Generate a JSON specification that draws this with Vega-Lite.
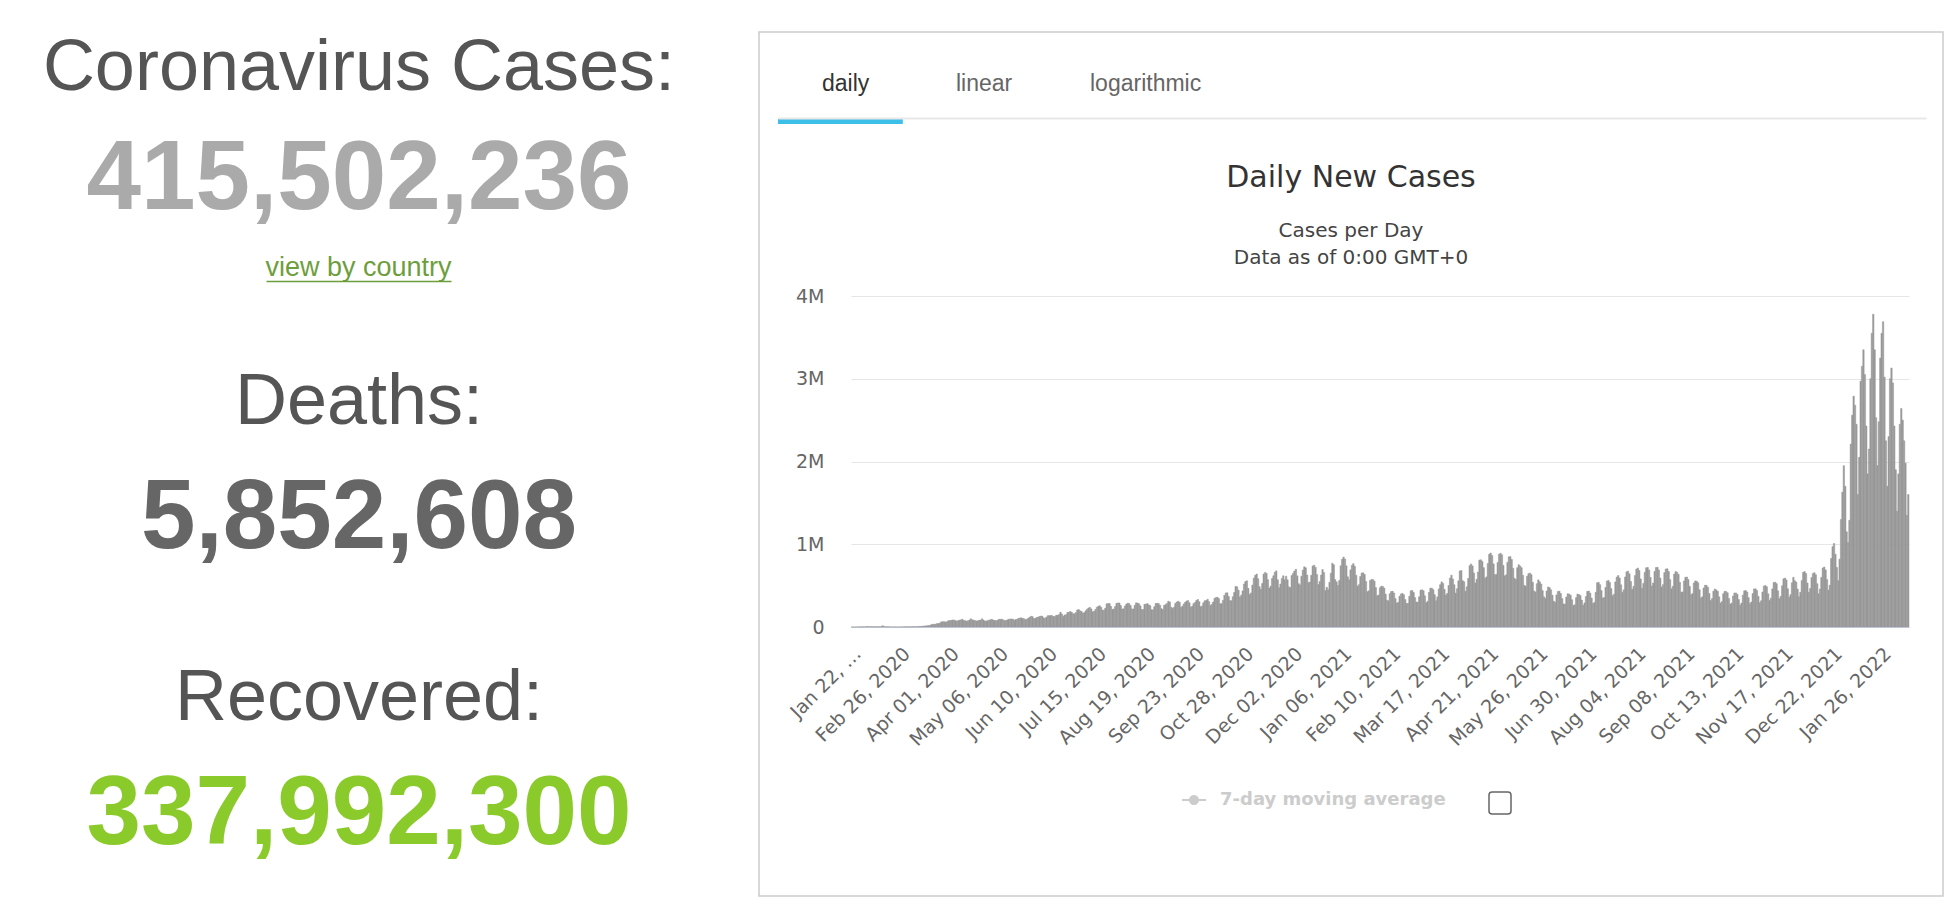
{
"$schema":"https://vega.github.io/schema/vega-lite/v6.json",
"background":"white",
"padding":{"left":0,"top":31,"right":1,"bottom":28},
"config":{"view":{"stroke":null},"font":"DejaVu Sans"},
"datasets":{
"stats":[{"label":"Coronavirus Cases:","count":415502236},{"label":"Deaths:","count":5852608},{"label":"Recovered:","count":337992300}],
"tabs":[{"tab":"daily","active":true},{"tab":"linear","active":false},{"tab":"logarithmic","active":false}],
"series":[{"series":"7-day moving average"}],
"toggle":[{"toggle":"show 7-day moving average"}],
"daily":[
{"date":"2020-01-22","cases":555},{"date":"2020-01-23","cases":98},{"date":"2020-01-24","cases":288},{"date":"2020-01-25","cases":493},{"date":"2020-01-26","cases":684},{"date":"2020-01-27","cases":809},{"date":"2020-01-28","cases":2651},{"date":"2020-01-29","cases":588},{"date":"2020-01-30","cases":2068},{"date":"2020-01-31","cases":1693},
{"date":"2020-02-01","cases":2111},{"date":"2020-02-02","cases":4749},{"date":"2020-02-03","cases":3094},{"date":"2020-02-04","cases":4011},{"date":"2020-02-05","cases":3743},{"date":"2020-02-06","cases":3159},{"date":"2020-02-07","cases":3437},{"date":"2020-02-08","cases":2657},{"date":"2020-02-09","cases":2984},{"date":"2020-02-10","cases":2473},{"date":"2020-02-11","cases":2022},{"date":"2020-02-12","cases":1820},{"date":"2020-02-13","cases":15153},{"date":"2020-02-14","cases":5090},{"date":"2020-02-15","cases":2641},{"date":"2020-02-16","cases":2058},{"date":"2020-02-17","cases":2100},{"date":"2020-02-18","cases":1866},{"date":"2020-02-19","cases":538},{"date":"2020-02-20","cases":630},{"date":"2020-02-21","cases":1013},{"date":"2020-02-22","cases":1109},{"date":"2020-02-23","cases":574},{"date":"2020-02-24","cases":688},{"date":"2020-02-25","cases":973},{"date":"2020-02-26","cases":1153},{"date":"2020-02-27","cases":1353},{"date":"2020-02-28","cases":1874},{"date":"2020-02-29","cases":1868},
{"date":"2020-03-01","cases":2153},{"date":"2020-03-02","cases":1868},{"date":"2020-03-03","cases":2380},{"date":"2020-03-04","cases":2234},{"date":"2020-03-05","cases":2735},{"date":"2020-03-06","cases":3934},{"date":"2020-03-07","cases":4083},{"date":"2020-03-08","cases":3831},{"date":"2020-03-09","cases":3930},{"date":"2020-03-10","cases":4690},{"date":"2020-03-11","cases":7088},{"date":"2020-03-12","cases":7431},{"date":"2020-03-13","cases":10787},{"date":"2020-03-14","cases":11027},{"date":"2020-03-15","cases":13765},{"date":"2020-03-16","cases":14632},{"date":"2020-03-17","cases":16897},{"date":"2020-03-18","cases":20160},{"date":"2020-03-19","cases":28780},{"date":"2020-03-20","cases":32570},{"date":"2020-03-21","cases":32733},{"date":"2020-03-22","cases":33939},{"date":"2020-03-23","cases":41157},{"date":"2020-03-24","cases":41961},{"date":"2020-03-25","cases":49569},{"date":"2020-03-26","cases":61788},{"date":"2020-03-27","cases":64290},{"date":"2020-03-28","cases":64620},{"date":"2020-03-29","cases":59600},{"date":"2020-03-30","cases":64560},{"date":"2020-03-31","cases":75390},
{"date":"2020-04-01","cases":77280},{"date":"2020-04-02","cases":80270},{"date":"2020-04-03","cases":84150},{"date":"2020-04-04","cases":85470},{"date":"2020-04-05","cases":77330},{"date":"2020-04-06","cases":71410},{"date":"2020-04-07","cases":77130},{"date":"2020-04-08","cases":82510},{"date":"2020-04-09","cases":86470},{"date":"2020-04-10","cases":93100},{"date":"2020-04-11","cases":79350},{"date":"2020-04-12","cases":76480},{"date":"2020-04-13","cases":71200},{"date":"2020-04-14","cases":74950},{"date":"2020-04-15","cases":83020},{"date":"2020-04-16","cases":98840},{"date":"2020-04-17","cases":86800},{"date":"2020-04-18","cases":82600},{"date":"2020-04-19","cases":79200},{"date":"2020-04-20","cases":72800},{"date":"2020-04-21","cases":76100},{"date":"2020-04-22","cases":80800},{"date":"2020-04-23","cases":84700},{"date":"2020-04-24","cases":98300},{"date":"2020-04-25","cases":84500},{"date":"2020-04-26","cases":72800},{"date":"2020-04-27","cases":73500},{"date":"2020-04-28","cases":76600},{"date":"2020-04-29","cases":81500},{"date":"2020-04-30","cases":87800},
{"date":"2020-05-01","cases":92400},{"date":"2020-05-02","cases":84500},{"date":"2020-05-03","cases":78900},{"date":"2020-05-04","cases":77400},{"date":"2020-05-05","cases":80000},{"date":"2020-05-06","cases":93500},{"date":"2020-05-07","cases":92000},{"date":"2020-05-08","cases":95000},{"date":"2020-05-09","cases":87400},{"date":"2020-05-10","cases":76900},{"date":"2020-05-11","cases":79700},{"date":"2020-05-12","cases":85800},{"date":"2020-05-13","cases":92300},{"date":"2020-05-14","cases":97300},{"date":"2020-05-15","cases":96300},{"date":"2020-05-16","cases":95400},{"date":"2020-05-17","cases":81000},{"date":"2020-05-18","cases":90000},{"date":"2020-05-19","cases":93100},{"date":"2020-05-20","cases":103700},{"date":"2020-05-21","cases":107700},{"date":"2020-05-22","cases":111000},{"date":"2020-05-23","cases":103400},{"date":"2020-05-24","cases":100000},{"date":"2020-05-25","cases":89500},{"date":"2020-05-26","cases":94500},{"date":"2020-05-27","cases":106000},{"date":"2020-05-28","cases":117000},{"date":"2020-05-29","cases":129000},{"date":"2020-05-30","cases":125000},{"date":"2020-05-31","cases":104000},
{"date":"2020-06-01","cases":103000},{"date":"2020-06-02","cases":115000},{"date":"2020-06-03","cases":120000},{"date":"2020-06-04","cases":126000},{"date":"2020-06-05","cases":132000},{"date":"2020-06-06","cases":130000},{"date":"2020-06-07","cases":110000},{"date":"2020-06-08","cases":104000},{"date":"2020-06-09","cases":120000},{"date":"2020-06-10","cases":137000},{"date":"2020-06-11","cases":137000},{"date":"2020-06-12","cases":140000},{"date":"2020-06-13","cases":137000},{"date":"2020-06-14","cases":128000},{"date":"2020-06-15","cases":126000},{"date":"2020-06-16","cases":142000},{"date":"2020-06-17","cases":142000},{"date":"2020-06-18","cases":150000},{"date":"2020-06-19","cases":179000},{"date":"2020-06-20","cases":157000},{"date":"2020-06-21","cases":130000},{"date":"2020-06-22","cases":145000},{"date":"2020-06-23","cases":149000},{"date":"2020-06-24","cases":175000},{"date":"2020-06-25","cases":178000},{"date":"2020-06-26","cases":188000},{"date":"2020-06-27","cases":177000},{"date":"2020-06-28","cases":160000},{"date":"2020-06-29","cases":160000},{"date":"2020-06-30","cases":174000},
{"date":"2020-07-01","cases":206000},{"date":"2020-07-02","cases":210000},{"date":"2020-07-03","cases":195000},{"date":"2020-07-04","cases":188000},{"date":"2020-07-05","cases":168000},{"date":"2020-07-06","cases":174000},{"date":"2020-07-07","cases":197000},{"date":"2020-07-08","cases":215000},{"date":"2020-07-09","cases":230000},{"date":"2020-07-10","cases":237000},{"date":"2020-07-11","cases":218000},{"date":"2020-07-12","cases":183000},{"date":"2020-07-13","cases":190000},{"date":"2020-07-14","cases":212000},{"date":"2020-07-15","cases":238000},{"date":"2020-07-16","cases":251000},{"date":"2020-07-17","cases":256000},{"date":"2020-07-18","cases":240000},{"date":"2020-07-19","cases":206000},{"date":"2020-07-20","cases":203000},{"date":"2020-07-21","cases":227000},{"date":"2020-07-22","cases":280000},{"date":"2020-07-23","cases":283000},{"date":"2020-07-24","cases":283000},{"date":"2020-07-25","cases":250000},{"date":"2020-07-26","cases":213000},{"date":"2020-07-27","cases":217000},{"date":"2020-07-28","cases":247000},{"date":"2020-07-29","cases":285000},{"date":"2020-07-30","cases":291000},{"date":"2020-07-31","cases":290000},
{"date":"2020-08-01","cases":260000},{"date":"2020-08-02","cases":218000},{"date":"2020-08-03","cases":220000},{"date":"2020-08-04","cases":253000},{"date":"2020-08-05","cases":277000},{"date":"2020-08-06","cases":288000},{"date":"2020-08-07","cases":284000},{"date":"2020-08-08","cases":260000},{"date":"2020-08-09","cases":219000},{"date":"2020-08-10","cases":218000},{"date":"2020-08-11","cases":262000},{"date":"2020-08-12","cases":292000},{"date":"2020-08-13","cases":289000},{"date":"2020-08-14","cases":282000},{"date":"2020-08-15","cases":256000},{"date":"2020-08-16","cases":212000},{"date":"2020-08-17","cases":211000},{"date":"2020-08-18","cases":274000},{"date":"2020-08-19","cases":278000},{"date":"2020-08-20","cases":283000},{"date":"2020-08-21","cases":268000},{"date":"2020-08-22","cases":257000},{"date":"2020-08-23","cases":209000},{"date":"2020-08-24","cases":207000},{"date":"2020-08-25","cases":245000},{"date":"2020-08-26","cases":285000},{"date":"2020-08-27","cases":286000},{"date":"2020-08-28","cases":283000},{"date":"2020-08-29","cases":264000},{"date":"2020-08-30","cases":222000},{"date":"2020-08-31","cases":212000},
{"date":"2020-09-01","cases":262000},{"date":"2020-09-02","cases":271000},{"date":"2020-09-03","cases":285000},{"date":"2020-09-04","cases":311000},{"date":"2020-09-05","cases":303000},{"date":"2020-09-06","cases":238000},{"date":"2020-09-07","cases":226000},{"date":"2020-09-08","cases":239000},{"date":"2020-09-09","cases":285000},{"date":"2020-09-10","cases":303000},{"date":"2020-09-11","cases":312000},{"date":"2020-09-12","cases":299000},{"date":"2020-09-13","cases":237000},{"date":"2020-09-14","cases":251000},{"date":"2020-09-15","cases":279000},{"date":"2020-09-16","cases":298000},{"date":"2020-09-17","cases":314000},{"date":"2020-09-18","cases":319000},{"date":"2020-09-19","cases":292000},{"date":"2020-09-20","cases":240000},{"date":"2020-09-21","cases":251000},{"date":"2020-09-22","cases":283000},{"date":"2020-09-23","cases":297000},{"date":"2020-09-24","cases":321000},{"date":"2020-09-25","cases":333000},{"date":"2020-09-26","cases":305000},{"date":"2020-09-27","cases":245000},{"date":"2020-09-28","cases":255000},{"date":"2020-09-29","cases":293000},{"date":"2020-09-30","cases":318000},
{"date":"2020-10-01","cases":319000},{"date":"2020-10-02","cases":335000},{"date":"2020-10-03","cases":306000},{"date":"2020-10-04","cases":260000},{"date":"2020-10-05","cases":275000},{"date":"2020-10-06","cases":302000},{"date":"2020-10-07","cases":347000},{"date":"2020-10-08","cases":357000},{"date":"2020-10-09","cases":360000},{"date":"2020-10-10","cases":343000},{"date":"2020-10-11","cases":280000},{"date":"2020-10-12","cases":283000},{"date":"2020-10-13","cases":323000},{"date":"2020-10-14","cases":382000},{"date":"2020-10-15","cases":412000},{"date":"2020-10-16","cases":413000},{"date":"2020-10-17","cases":369000},{"date":"2020-10-18","cases":319000},{"date":"2020-10-19","cases":317000},{"date":"2020-10-20","cases":367000},{"date":"2020-10-21","cases":416000},{"date":"2020-10-22","cases":491000},{"date":"2020-10-23","cases":485000},{"date":"2020-10-24","cases":446000},{"date":"2020-10-25","cases":363000},{"date":"2020-10-26","cases":385000},{"date":"2020-10-27","cases":436000},{"date":"2020-10-28","cases":519000},{"date":"2020-10-29","cases":549000},{"date":"2020-10-30","cases":558000},{"date":"2020-10-31","cases":467000},
{"date":"2020-11-01","cases":394000},{"date":"2020-11-02","cases":412000},{"date":"2020-11-03","cases":507000},{"date":"2020-11-04","cases":591000},{"date":"2020-11-05","cases":625000},{"date":"2020-11-06","cases":640000},{"date":"2020-11-07","cases":584000},{"date":"2020-11-08","cases":487000},{"date":"2020-11-09","cases":455000},{"date":"2020-11-10","cases":527000},{"date":"2020-11-11","cases":640000},{"date":"2020-11-12","cases":660000},{"date":"2020-11-13","cases":648000},{"date":"2020-11-14","cases":572000},{"date":"2020-11-15","cases":470000},{"date":"2020-11-16","cases":493000},{"date":"2020-11-17","cases":586000},{"date":"2020-11-18","cases":619000},{"date":"2020-11-19","cases":662000},{"date":"2020-11-20","cases":678000},{"date":"2020-11-21","cases":570000},{"date":"2020-11-22","cases":474000},{"date":"2020-11-23","cases":520000},{"date":"2020-11-24","cases":587000},{"date":"2020-11-25","cases":619000},{"date":"2020-11-26","cases":570000},{"date":"2020-11-27","cases":614000},{"date":"2020-11-28","cases":570000},{"date":"2020-11-29","cases":485000},{"date":"2020-11-30","cases":476000},
{"date":"2020-12-01","cases":622000},{"date":"2020-12-02","cases":649000},{"date":"2020-12-03","cases":677000},{"date":"2020-12-04","cases":697000},{"date":"2020-12-05","cases":618000},{"date":"2020-12-06","cases":523000},{"date":"2020-12-07","cases":509000},{"date":"2020-12-08","cases":613000},{"date":"2020-12-09","cases":688000},{"date":"2020-12-10","cases":727000},{"date":"2020-12-11","cases":716000},{"date":"2020-12-12","cases":628000},{"date":"2020-12-13","cases":536000},{"date":"2020-12-14","cases":544000},{"date":"2020-12-15","cases":625000},{"date":"2020-12-16","cases":738000},{"date":"2020-12-17","cases":747000},{"date":"2020-12-18","cases":722000},{"date":"2020-12-19","cases":633000},{"date":"2020-12-20","cases":513000},{"date":"2020-12-21","cases":550000},{"date":"2020-12-22","cases":627000},{"date":"2020-12-23","cases":694000},{"date":"2020-12-24","cases":658000},{"date":"2020-12-25","cases":440000},{"date":"2020-12-26","cases":480000},{"date":"2020-12-27","cases":450000},{"date":"2020-12-28","cases":540000},{"date":"2020-12-29","cases":650000},{"date":"2020-12-30","cases":770000},{"date":"2020-12-31","cases":753000},
{"date":"2021-01-01","cases":573000},{"date":"2021-01-02","cases":546000},{"date":"2021-01-03","cases":501000},{"date":"2021-01-04","cases":563000},{"date":"2021-01-05","cases":740000},{"date":"2021-01-06","cases":818000},{"date":"2021-01-07","cases":845000},{"date":"2021-01-08","cases":821000},{"date":"2021-01-09","cases":739000},{"date":"2021-01-10","cases":606000},{"date":"2021-01-11","cases":570000},{"date":"2021-01-12","cases":690000},{"date":"2021-01-13","cases":745000},{"date":"2021-01-14","cases":766000},{"date":"2021-01-15","cases":733000},{"date":"2021-01-16","cases":626000},{"date":"2021-01-17","cases":494000},{"date":"2021-01-18","cases":512000},{"date":"2021-01-19","cases":610000},{"date":"2021-01-20","cases":653000},{"date":"2021-01-21","cases":655000},{"date":"2021-01-22","cases":636000},{"date":"2021-01-23","cases":550000},{"date":"2021-01-24","cases":426000},{"date":"2021-01-25","cases":437000},{"date":"2021-01-26","cases":563000},{"date":"2021-01-27","cases":574000},{"date":"2021-01-28","cases":573000},{"date":"2021-01-29","cases":555000},{"date":"2021-01-30","cases":476000},{"date":"2021-01-31","cases":378000},
{"date":"2021-02-01","cases":386000},{"date":"2021-02-02","cases":474000},{"date":"2021-02-03","cases":494000},{"date":"2021-02-04","cases":488000},{"date":"2021-02-05","cases":470000},{"date":"2021-02-06","cases":397000},{"date":"2021-02-07","cases":324000},{"date":"2021-02-08","cases":316000},{"date":"2021-02-09","cases":403000},{"date":"2021-02-10","cases":429000},{"date":"2021-02-11","cases":432000},{"date":"2021-02-12","cases":411000},{"date":"2021-02-13","cases":343000},{"date":"2021-02-14","cases":290000},{"date":"2021-02-15","cases":298000},{"date":"2021-02-16","cases":372000},{"date":"2021-02-17","cases":400000},{"date":"2021-02-18","cases":406000},{"date":"2021-02-19","cases":390000},{"date":"2021-02-20","cases":331000},{"date":"2021-02-21","cases":284000},{"date":"2021-02-22","cases":286000},{"date":"2021-02-23","cases":371000},{"date":"2021-02-24","cases":437000},{"date":"2021-02-25","cases":441000},{"date":"2021-02-26","cases":417000},{"date":"2021-02-27","cases":355000},{"date":"2021-02-28","cases":302000},
{"date":"2021-03-01","cases":302000},{"date":"2021-03-02","cases":366000},{"date":"2021-03-03","cases":445000},{"date":"2021-03-04","cases":449000},{"date":"2021-03-05","cases":438000},{"date":"2021-03-06","cases":377000},{"date":"2021-03-07","cases":294000},{"date":"2021-03-08","cases":310000},{"date":"2021-03-09","cases":419000},{"date":"2021-03-10","cases":469000},{"date":"2021-03-11","cases":469000},{"date":"2021-03-12","cases":451000},{"date":"2021-03-13","cases":390000},{"date":"2021-03-14","cases":317000},{"date":"2021-03-15","cases":364000},{"date":"2021-03-16","cases":460000},{"date":"2021-03-17","cases":512000},{"date":"2021-03-18","cases":545000},{"date":"2021-03-19","cases":527000},{"date":"2021-03-20","cases":455000},{"date":"2021-03-21","cases":386000},{"date":"2021-03-22","cases":405000},{"date":"2021-03-23","cases":502000},{"date":"2021-03-24","cases":592000},{"date":"2021-03-25","cases":626000},{"date":"2021-03-26","cases":581000},{"date":"2021-03-27","cases":511000},{"date":"2021-03-28","cases":409000},{"date":"2021-03-29","cases":463000},{"date":"2021-03-30","cases":558000},{"date":"2021-03-31","cases":677000},
{"date":"2021-04-01","cases":683000},{"date":"2021-04-02","cases":560000},{"date":"2021-04-03","cases":547000},{"date":"2021-04-04","cases":433000},{"date":"2021-04-05","cases":487000},{"date":"2021-04-06","cases":586000},{"date":"2021-04-07","cases":741000},{"date":"2021-04-08","cases":761000},{"date":"2021-04-09","cases":738000},{"date":"2021-04-10","cases":653000},{"date":"2021-04-11","cases":531000},{"date":"2021-04-12","cases":576000},{"date":"2021-04-13","cases":664000},{"date":"2021-04-14","cases":809000},{"date":"2021-04-15","cases":812000},{"date":"2021-04-16","cases":793000},{"date":"2021-04-17","cases":717000},{"date":"2021-04-18","cases":589000},{"date":"2021-04-19","cases":606000},{"date":"2021-04-20","cases":767000},{"date":"2021-04-21","cases":880000},{"date":"2021-04-22","cases":893000},{"date":"2021-04-23","cases":865000},{"date":"2021-04-24","cases":762000},{"date":"2021-04-25","cases":632000},{"date":"2021-04-26","cases":636000},{"date":"2021-04-27","cases":780000},{"date":"2021-04-28","cases":880000},{"date":"2021-04-29","cases":891000},{"date":"2021-04-30","cases":873000},
{"date":"2021-05-01","cases":745000},{"date":"2021-05-02","cases":618000},{"date":"2021-05-03","cases":630000},{"date":"2021-05-04","cases":782000},{"date":"2021-05-05","cases":848000},{"date":"2021-05-06","cases":850000},{"date":"2021-05-07","cases":817000},{"date":"2021-05-08","cases":710000},{"date":"2021-05-09","cases":589000},{"date":"2021-05-10","cases":574000},{"date":"2021-05-11","cases":716000},{"date":"2021-05-12","cases":753000},{"date":"2021-05-13","cases":737000},{"date":"2021-05-14","cases":716000},{"date":"2021-05-15","cases":624000},{"date":"2021-05-16","cases":503000},{"date":"2021-05-17","cases":494000},{"date":"2021-05-18","cases":614000},{"date":"2021-05-19","cases":644000},{"date":"2021-05-20","cases":652000},{"date":"2021-05-21","cases":633000},{"date":"2021-05-22","cases":540000},{"date":"2021-05-23","cases":435000},{"date":"2021-05-24","cases":422000},{"date":"2021-05-25","cases":524000},{"date":"2021-05-26","cases":570000},{"date":"2021-05-27","cases":546000},{"date":"2021-05-28","cases":520000},{"date":"2021-05-29","cases":440000},{"date":"2021-05-30","cases":365000},{"date":"2021-05-31","cases":345000},
{"date":"2021-06-01","cases":436000},{"date":"2021-06-02","cases":484000},{"date":"2021-06-03","cases":476000},{"date":"2021-06-04","cases":451000},{"date":"2021-06-05","cases":385000},{"date":"2021-06-06","cases":312000},{"date":"2021-06-07","cases":300000},{"date":"2021-06-08","cases":388000},{"date":"2021-06-09","cases":430000},{"date":"2021-06-10","cases":433000},{"date":"2021-06-11","cases":405000},{"date":"2021-06-12","cases":344000},{"date":"2021-06-13","cases":279000},{"date":"2021-06-14","cases":276000},{"date":"2021-06-15","cases":362000},{"date":"2021-06-16","cases":402000},{"date":"2021-06-17","cases":398000},{"date":"2021-06-18","cases":385000},{"date":"2021-06-19","cases":330000},{"date":"2021-06-20","cases":260000},{"date":"2021-06-21","cases":269000},{"date":"2021-06-22","cases":355000},{"date":"2021-06-23","cases":398000},{"date":"2021-06-24","cases":393000},{"date":"2021-06-25","cases":380000},{"date":"2021-06-26","cases":325000},{"date":"2021-06-27","cases":262000},{"date":"2021-06-28","cases":291000},{"date":"2021-06-29","cases":370000},{"date":"2021-06-30","cases":430000},
{"date":"2021-07-01","cases":434000},{"date":"2021-07-02","cases":410000},{"date":"2021-07-03","cases":350000},{"date":"2021-07-04","cases":285000},{"date":"2021-07-05","cases":296000},{"date":"2021-07-06","cases":420000},{"date":"2021-07-07","cases":535000},{"date":"2021-07-08","cases":540000},{"date":"2021-07-09","cases":512000},{"date":"2021-07-10","cases":440000},{"date":"2021-07-11","cases":350000},{"date":"2021-07-12","cases":358000},{"date":"2021-07-13","cases":478000},{"date":"2021-07-14","cases":556000},{"date":"2021-07-15","cases":563000},{"date":"2021-07-16","cases":538000},{"date":"2021-07-17","cases":464000},{"date":"2021-07-18","cases":378000},{"date":"2021-07-19","cases":396000},{"date":"2021-07-20","cases":545000},{"date":"2021-07-21","cases":603000},{"date":"2021-07-22","cases":622000},{"date":"2021-07-23","cases":592000},{"date":"2021-07-24","cases":510000},{"date":"2021-07-25","cases":420000},{"date":"2021-07-26","cases":449000},{"date":"2021-07-27","cases":605000},{"date":"2021-07-28","cases":667000},{"date":"2021-07-29","cases":675000},{"date":"2021-07-30","cases":643000},{"date":"2021-07-31","cases":551000},
{"date":"2021-08-01","cases":455000},{"date":"2021-08-02","cases":492000},{"date":"2021-08-03","cases":621000},{"date":"2021-08-04","cases":700000},{"date":"2021-08-05","cases":713000},{"date":"2021-08-06","cases":683000},{"date":"2021-08-07","cases":581000},{"date":"2021-08-08","cases":469000},{"date":"2021-08-09","cases":527000},{"date":"2021-08-10","cases":662000},{"date":"2021-08-11","cases":716000},{"date":"2021-08-12","cases":720000},{"date":"2021-08-13","cases":690000},{"date":"2021-08-14","cases":600000},{"date":"2021-08-15","cases":495000},{"date":"2021-08-16","cases":531000},{"date":"2021-08-17","cases":672000},{"date":"2021-08-18","cases":718000},{"date":"2021-08-19","cases":722000},{"date":"2021-08-20","cases":689000},{"date":"2021-08-21","cases":592000},{"date":"2021-08-22","cases":483000},{"date":"2021-08-23","cases":512000},{"date":"2021-08-24","cases":658000},{"date":"2021-08-25","cases":700000},{"date":"2021-08-26","cases":704000},{"date":"2021-08-27","cases":672000},{"date":"2021-08-28","cases":573000},{"date":"2021-08-29","cases":461000},{"date":"2021-08-30","cases":493000},{"date":"2021-08-31","cases":640000},
{"date":"2021-09-01","cases":671000},{"date":"2021-09-02","cases":661000},{"date":"2021-09-03","cases":636000},{"date":"2021-09-04","cases":540000},{"date":"2021-09-05","cases":420000},{"date":"2021-09-06","cases":424000},{"date":"2021-09-07","cases":556000},{"date":"2021-09-08","cases":601000},{"date":"2021-09-09","cases":604000},{"date":"2021-09-10","cases":573000},{"date":"2021-09-11","cases":490000},{"date":"2021-09-12","cases":389000},{"date":"2021-09-13","cases":404000},{"date":"2021-09-14","cases":531000},{"date":"2021-09-15","cases":557000},{"date":"2021-09-16","cases":553000},{"date":"2021-09-17","cases":534000},{"date":"2021-09-18","cases":450000},{"date":"2021-09-19","cases":350000},{"date":"2021-09-20","cases":365000},{"date":"2021-09-21","cases":471000},{"date":"2021-09-22","cases":505000},{"date":"2021-09-23","cases":503000},{"date":"2021-09-24","cases":480000},{"date":"2021-09-25","cases":405000},{"date":"2021-09-26","cases":319000},{"date":"2021-09-27","cases":343000},{"date":"2021-09-28","cases":433000},{"date":"2021-09-29","cases":459000},{"date":"2021-09-30","cases":448000},
{"date":"2021-10-01","cases":433000},{"date":"2021-10-02","cases":365000},{"date":"2021-10-03","cases":290000},{"date":"2021-10-04","cases":307000},{"date":"2021-10-05","cases":402000},{"date":"2021-10-06","cases":431000},{"date":"2021-10-07","cases":428000},{"date":"2021-10-08","cases":414000},{"date":"2021-10-09","cases":345000},{"date":"2021-10-10","cases":276000},{"date":"2021-10-11","cases":290000},{"date":"2021-10-12","cases":374000},{"date":"2021-10-13","cases":411000},{"date":"2021-10-14","cases":412000},{"date":"2021-10-15","cases":396000},{"date":"2021-10-16","cases":331000},{"date":"2021-10-17","cases":265000},{"date":"2021-10-18","cases":290000},{"date":"2021-10-19","cases":386000},{"date":"2021-10-20","cases":437000},{"date":"2021-10-21","cases":440000},{"date":"2021-10-22","cases":423000},{"date":"2021-10-23","cases":355000},{"date":"2021-10-24","cases":281000},{"date":"2021-10-25","cases":302000},{"date":"2021-10-26","cases":404000},{"date":"2021-10-27","cases":460000},{"date":"2021-10-28","cases":461000},{"date":"2021-10-29","cases":442000},{"date":"2021-10-30","cases":371000},{"date":"2021-10-31","cases":293000},
{"date":"2021-11-01","cases":317000},{"date":"2021-11-02","cases":423000},{"date":"2021-11-03","cases":495000},{"date":"2021-11-04","cases":501000},{"date":"2021-11-05","cases":486000},{"date":"2021-11-06","cases":401000},{"date":"2021-11-07","cases":321000},{"date":"2021-11-08","cases":348000},{"date":"2021-11-09","cases":460000},{"date":"2021-11-10","cases":537000},{"date":"2021-11-11","cases":542000},{"date":"2021-11-12","cases":524000},{"date":"2021-11-13","cases":437000},{"date":"2021-11-14","cases":343000},{"date":"2021-11-15","cases":371000},{"date":"2021-11-16","cases":497000},{"date":"2021-11-17","cases":582000},{"date":"2021-11-18","cases":591000},{"date":"2021-11-19","cases":569000},{"date":"2021-11-20","cases":462000},{"date":"2021-11-21","cases":361000},{"date":"2021-11-22","cases":391000},{"date":"2021-11-23","cases":536000},{"date":"2021-11-24","cases":600000},{"date":"2021-11-25","cases":560000},{"date":"2021-11-26","cases":543000},{"date":"2021-11-27","cases":458000},{"date":"2021-11-28","cases":365000},{"date":"2021-11-29","cases":420000},{"date":"2021-11-30","cases":562000},
{"date":"2021-12-01","cases":661000},{"date":"2021-12-02","cases":670000},{"date":"2021-12-03","cases":647000},{"date":"2021-12-04","cases":532000},{"date":"2021-12-05","cases":419000},{"date":"2021-12-06","cases":466000},{"date":"2021-12-07","cases":598000},{"date":"2021-12-08","cases":647000},{"date":"2021-12-09","cases":656000},{"date":"2021-12-10","cases":631000},{"date":"2021-12-11","cases":524000},{"date":"2021-12-12","cases":402000},{"date":"2021-12-13","cases":460000},{"date":"2021-12-14","cases":600000},{"date":"2021-12-15","cases":713000},{"date":"2021-12-16","cases":725000},{"date":"2021-12-17","cases":690000},{"date":"2021-12-18","cases":575000},{"date":"2021-12-19","cases":445000},{"date":"2021-12-20","cases":505000},{"date":"2021-12-21","cases":827000},{"date":"2021-12-22","cases":971000},{"date":"2021-12-23","cases":1010000},{"date":"2021-12-24","cases":880000},{"date":"2021-12-25","cases":720000},{"date":"2021-12-26","cases":560000},{"date":"2021-12-27","cases":820000},{"date":"2021-12-28","cases":1300000},{"date":"2021-12-29","cases":1630000},{"date":"2021-12-30","cases":1950000},{"date":"2021-12-31","cases":1700000},
{"date":"2022-01-01","cases":1150000},{"date":"2022-01-02","cases":1020000},{"date":"2022-01-03","cases":1290000},{"date":"2022-01-04","cases":2210000},{"date":"2022-01-05","cases":2560000},{"date":"2022-01-06","cases":2790000},{"date":"2022-01-07","cases":2680000},{"date":"2022-01-08","cases":2450000},{"date":"2022-01-09","cases":1600000},{"date":"2022-01-10","cases":2050000},{"date":"2022-01-11","cases":2970000},{"date":"2022-01-12","cases":3150000},{"date":"2022-01-13","cases":3350000},{"date":"2022-01-14","cases":3050000},{"date":"2022-01-15","cases":2430000},{"date":"2022-01-16","cases":1850000},{"date":"2022-01-17","cases":2150000},{"date":"2022-01-18","cases":3000000},{"date":"2022-01-19","cases":3550000},{"date":"2022-01-20","cases":3780000},{"date":"2022-01-21","cases":3350000},{"date":"2022-01-22","cases":2530000},{"date":"2022-01-23","cases":1950000},{"date":"2022-01-24","cases":2480000},{"date":"2022-01-25","cases":3250000},{"date":"2022-01-26","cases":3550000},{"date":"2022-01-27","cases":3690000},{"date":"2022-01-28","cases":3020000},{"date":"2022-01-29","cases":2250000},{"date":"2022-01-30","cases":1700000},{"date":"2022-01-31","cases":2300000},
{"date":"2022-02-01","cases":3000000},{"date":"2022-02-02","cases":3130000},{"date":"2022-02-03","cases":2950000},{"date":"2022-02-04","cases":2430000},{"date":"2022-02-05","cases":1900000},{"date":"2022-02-06","cases":1400000},{"date":"2022-02-07","cases":1850000},{"date":"2022-02-08","cases":2450000},{"date":"2022-02-09","cases":2640000},{"date":"2022-02-10","cases":2500000},{"date":"2022-02-11","cases":2250000},{"date":"2022-02-12","cases":1980000},{"date":"2022-02-13","cases":1350000},{"date":"2022-02-14","cases":1600000}
]},
"spacing":40,
"hconcat":[
{"spacing":77,"vconcat":[
 {"spacing":21,"vconcat":[
  {"width":718,"height":72,"data":{"name":"stats"},"transform":[{"filter":"datum.label === 'Coronavirus Cases:'"}],
   "mark":{"type":"text","font":"Liberation Sans","fontSize":72,"color":"#555555","baseline":"middle","align":"center"},
   "encoding":{"text":{"field":"label","type":"nominal"}}},
  {"spacing":16,"vconcat":[
   {"width":718,"height":110,"data":{"name":"stats"},"transform":[{"filter":"datum.label === 'Coronavirus Cases:'"}],
    "mark":{"type":"text","font":"Liberation Sans","fontSize":98,"fontWeight":"bold","color":"#aaaaaa","baseline":"middle","align":"center"},
    "encoding":{"text":{"field":"count","type":"quantitative","format":","}}},
   {"width":718,"height":34,"data":{"name":"stats"},"transform":[{"filter":"datum.label === 'Coronavirus Cases:'"}],
    "mark":{"type":"text","text":"view by country","font":"Liberation Sans","fontSize":27,"color":"#6e9e3c","baseline":"middle","align":"center"},
    "encoding":{"x":{"field":"label","type":"nominal","scale":{"type":"point","range":[266,451],"padding":0.5},
      "axis":{"orient":"bottom","offset":-4,"labels":false,"ticks":false,"title":null,"grid":false,"domainColor":"#6e9e3c","domainWidth":1.5}}}}
  ]}
 ]},
 {"spacing":15,"vconcat":[
  {"width":718,"height":80,"data":{"name":"stats"},"transform":[{"filter":"datum.label === 'Deaths:'"}],
   "mark":{"type":"text","font":"Liberation Sans","fontSize":72,"color":"#555555","baseline":"middle","align":"center"},
   "encoding":{"text":{"field":"label","type":"nominal"}}},
  {"width":718,"height":124,"data":{"name":"stats"},"transform":[{"filter":"datum.label === 'Deaths:'"}],
   "mark":{"type":"text","font":"Liberation Sans","fontSize":98,"fontWeight":"bold","color":"#666666","baseline":"middle","align":"center"},
   "encoding":{"text":{"field":"count","type":"quantitative","format":","}}}
 ]},
 {"spacing":22,"vconcat":[
  {"width":718,"height":80,"data":{"name":"stats"},"transform":[{"filter":"datum.label === 'Recovered:'"}],
   "mark":{"type":"text","font":"Liberation Sans","fontSize":72,"color":"#555555","baseline":"middle","align":"center"},
   "encoding":{"text":{"field":"label","type":"nominal"}}},
  {"width":718,"height":110,"data":{"name":"stats"},"transform":[{"filter":"datum.label === 'Recovered:'"}],
   "mark":{"type":"text","font":"Liberation Sans","fontSize":98,"fontWeight":"bold","color":"#8ACA2B","baseline":"middle","align":"center"},
   "encoding":{"text":{"field":"count","type":"quantitative","format":","}}}
 ]}
]},
{"width":1184,"height":864,
 "view":{"stroke":"#cccccc","strokeWidth":1.5},
 "title":{"text":"Daily New Cases","subtitle":["Cases per Day","Data as of 0:00 GMT+0"],"anchor":"middle","frame":"group","offset":-236,
   "font":"DejaVu Sans","fontSize":30,"fontWeight":"normal","color":"#333333",
   "subtitleFont":"DejaVu Sans","subtitleFontSize":20,"subtitleColor":"#444444","subtitleLineHeight":27,"subtitlePadding":28},
 "resolve":{"scale":{"x":"independent","y":"independent","color":"independent","shape":"independent"},"axis":{"x":"independent","y":"independent"},"legend":{"color":"independent","shape":"independent"}},
 "layer":[
  {"data":{"name":"daily"},
   "mark":{"type":"bar","color":"#999999","stroke":"#999999","strokeWidth":0.5},
   "encoding":{
    "x":{"field":"date","type":"ordinal","scale":{"type":"band","range":[92,1150],"paddingInner":0,"paddingOuter":0},
      "axis":{"orient":"bottom","offset":-269,"title":null,"grid":false,"ticks":false,"domainColor":"#ccd6eb","domainWidth":1,
        "values":["2020-01-22","2020-02-26","2020-04-01","2020-05-06","2020-06-10","2020-07-15","2020-08-19","2020-09-23","2020-10-28","2020-12-02","2021-01-06","2021-02-10","2021-03-17","2021-04-21","2021-05-26","2021-06-30","2021-08-04","2021-09-08","2021-10-13","2021-11-17","2021-12-22","2022-01-26"],
        "labelExpr":"datum.value === '2020-01-22' ? 'Jan 22, …' : utcFormat(toDate(datum.value), '%b %d, %Y')",
        "labelAngle":-45,"labelAlign":"right","labelBaseline":"top","labelPadding":17,"labelFont":"DejaVu Sans","labelFontSize":19,"labelColor":"#666666","labelOverlap":false,"labelBound":false}},
    "y":{"field":"cases","type":"quantitative","scale":{"domain":[0,4000000],"range":[595,264],"nice":false},
      "axis":{"orient":"left","offset":-92,"title":null,"values":[0,1000000,2000000,3000000,4000000],
        "labelExpr":"datum.value === 0 ? '0' : (datum.value / 1000000) + 'M'",
        "labelFont":"DejaVu Sans","labelFontSize":19,"labelColor":"#666666","labelPadding":27,"ticks":false,"tickSize":0,"domain":false,
        "grid":true,"gridColor":"#e6e6e6","gridWidth":1}}
   }},
  {"data":{"name":"tabs"},
   "mark":{"type":"text","font":"Liberation Sans","fontSize":23,"align":"left","baseline":"middle"},
   "encoding":{
    "x":{"field":"tab","type":"nominal","sort":null,"scale":{"type":"point","domain":["daily","linear","logarithmic"],"range":[63,331],"padding":0},"axis":null},
    "y":{"field":"tab","type":"nominal","scale":{"type":"point","range":[52,52]},"axis":null},
    "text":{"field":"tab","type":"nominal"},
    "color":{"condition":{"test":"datum.active","value":"#333333"},"value":"#666666"}
   }},
  {"data":{"name":"tabs"},"transform":[{"filter":"datum.active"}],
   "mark":{"type":"rect","color":"#3cbfe8"},
   "encoding":{
    "x":{"field":"tab","type":"nominal","scale":{"type":"band","domain":["daily","linear","logarithmic"],"range":[19,1167],"paddingInner":0.756,"paddingOuter":0,"align":0},
      "axis":{"orient":"top","offset":-86,"labels":false,"ticks":false,"domain":true,"domainColor":"#e8e8e8","domainWidth":2,"title":null,"grid":false}},
    "y":{"field":"tab","type":"nominal","scale":{"type":"band","range":[87,92],"paddingInner":0,"paddingOuter":0},"axis":null}
   }},
  {"data":{"name":"series"},
   "mark":{"type":"point","filled":true,"opacity":0},
   "encoding":{
    "color":{"field":"series","type":"nominal","scale":{"range":["#cccccc"]},
     "legend":{"orient":"none","legendX":423,"legendY":756,"title":null,"padding":0,
       "symbolType":"M-1,-0.09H1V0.09H-1Z M0.42,0A0.42,0.42 0 1 1 -0.42,0A0.42,0.42 0 1 1 0.42,0Z",
       "symbolSize":576,"symbolOpacity":1,"symbolStrokeWidth":0,"symbolFillColor":"#cccccc",
       "labelFont":"DejaVu Sans","labelFontSize":18,"labelFontWeight":"bold","labelColor":"#cccccc","labelOffset":14,"labelLimit":500}}
   }},
  {"data":{"name":"toggle"},
   "mark":{"type":"point","opacity":0,"color":"#666666","strokeWidth":1.5},
   "encoding":{
    "shape":{"field":"toggle","type":"nominal","scale":{"range":["M-0.72,-1H0.72A0.28,0.28 0 0 1 1,-0.72V0.72A0.28,0.28 0 0 1 0.72,1H-0.72A0.28,0.28 0 0 1 -1,0.72V-0.72A0.28,0.28 0 0 1 -0.72,-1Z"]},
     "legend":{"orient":"none","legendX":729,"legendY":759,"title":null,"padding":0,"symbolSize":484,"symbolStrokeColor":"#666666","symbolStrokeWidth":1.5,"symbolFillColor":"#ffffff","symbolOpacity":1,"labelExpr":"''"}}
   }}
 ]}
]
}
